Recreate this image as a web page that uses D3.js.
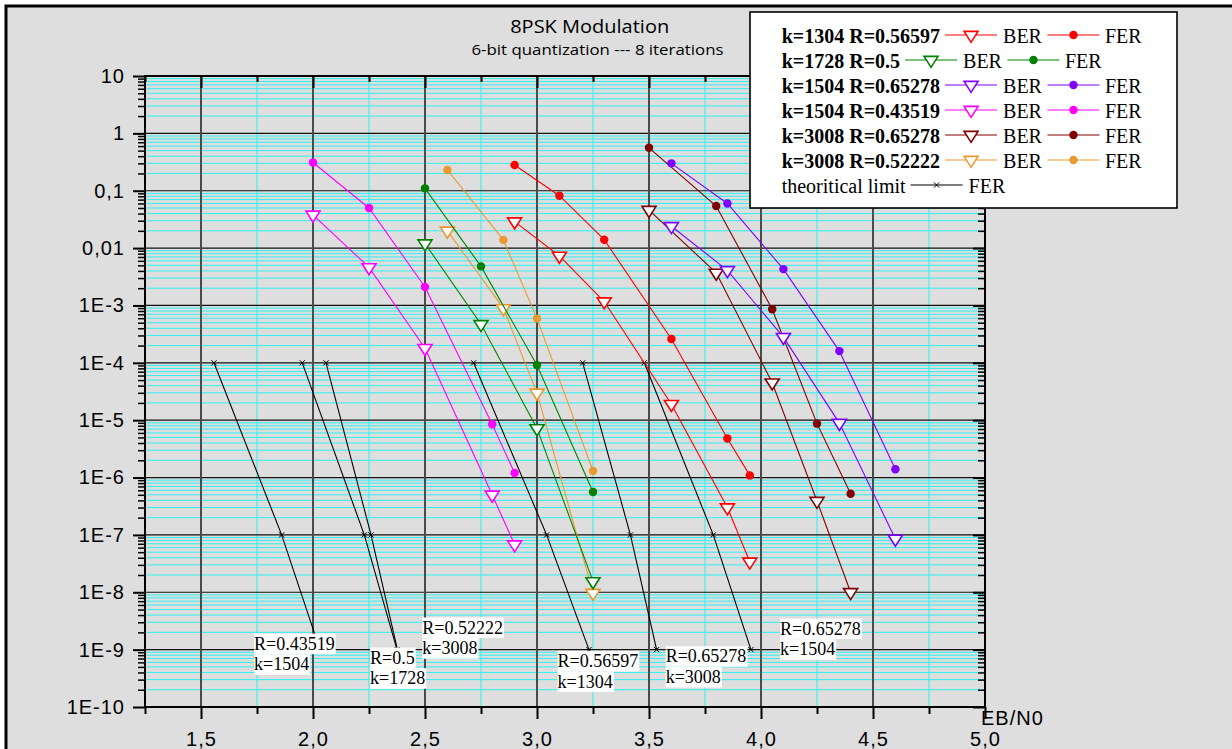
<!DOCTYPE html>
<html lang="en">
<head>
<meta charset="UTF-8">
<title>8PSK Modulation</title>
<script src="https://d3js.org/d3.v7.min.js"></script>
<style>
  body { margin: 0; background: #fff; }
  svg { display: block; }
</style>
</head>
<body>
<svg id="chart" width="1232" height="749"></svg>
<script>
// ---- data ----
const xTickValues = [1.5, 2.0, 2.5, 3.0, 3.5, 4.0, 4.5, 5.0];
const xTickLabels = ["1,5", "2,0", "2,5", "3,0", "3,5", "4,0", "4,5", "5,0"];
const yTickValues = [10, 1, 0.1, 0.01, 1e-3, 1e-4, 1e-5, 1e-6, 1e-7, 1e-8, 1e-9, 1e-10];
const yTickLabels = ["10", "1", "0,1", "0,01", "1E-3", "1E-4", "1E-5", "1E-6", "1E-7", "1E-8", "1E-9", "1E-10"];

const codeNames = ["k=1304 R=0.56597", "k=1728 R=0.5", "k=1504 R=0.65278",
                   "k=1504 R=0.43519", "k=3008 R=0.65278", "k=3008 R=0.52222"];
const codeColors = ["#ff0000", "#008000", "#8000ff", "#ff00ff", "#800000", "#e89a30"];

const ebn0_k1304 = [2.9, 3.1, 3.3, 3.6, 3.85, 3.95];
const ber_k1304 = [0.029, 7.3e-3, 1.17e-3, 1.9e-5, 3.0e-7, 3.4e-8];
const fer_k1304 = [0.28, 0.082, 0.014, 2.6e-4, 4.8e-6, 1.09e-6];

const ebn0_k1728 = [2.5, 2.75, 3.0, 3.25];
const ber_k1728 = [0.012, 4.7e-4, 7.2e-6, 1.55e-8];
const fer_k1728 = [0.11, 4.8e-3, 9.1e-5, 5.6e-7];

const ebn0_k1504a = [3.6, 3.85, 4.1, 4.35, 4.6];
const ber_k1504a = [0.024, 4.1e-3, 2.8e-4, 8.9e-6, 8.5e-8];
const fer_k1504a = [0.30, 0.06, 4.3e-3, 1.6e-4, 1.4e-6];

const ebn0_k1504b = [2.0, 2.25, 2.5, 2.8, 2.9];
const ber_k1504b = [0.038, 4.6e-3, 1.8e-4, 5e-7, 6.8e-8];
const fer_k1504b = [0.31, 0.05, 2.1e-3, 8.5e-6, 1.2e-6];

const ebn0_k3008a = [3.5, 3.8, 4.05, 4.25, 4.4];
const ber_k3008a = [0.046, 3.7e-3, 4.5e-5, 3.9e-7, 1e-8];
const fer_k3008a = [0.56, 0.054, 8.6e-4, 8.7e-6, 5.2e-7];

const ebn0_k3008b = [2.6, 2.85, 3.0, 3.25];
const ber_k3008b = [0.02, 8.9e-4, 3.0e-5, 9.7e-9];
const fer_k3008b = [0.23, 0.0139, 5.9e-4, 1.3e-6];

// theoretical limit (FER) for each code
const limitFer = [1e-4, 1e-7, 1e-9];
const limitEbn0 = [
  [1.558, 1.860, 2.031],   // R=0.43519 k=1504
  [1.952, 2.229, 2.375],   // R=0.5 k=1728
  [2.058, 2.259, 2.377],   // R=0.52222 k=3008
  [2.717, 3.043, 3.232],   // R=0.56597 k=1304
  [3.204, 3.417, 3.534],   // R=0.65278 k=3008
  [3.479, 3.787, 3.955]    // R=0.65278 k=1504
];
const limitText = [["R=0.43519", "k=1504"], ["R=0.5", "k=1728"], ["R=0.52222", "k=3008"],
                   ["R=0.56597", "k=1304"], ["R=0.65278", "k=3008"], ["R=0.65278", "k=1504"]];
const limitTextX = [1.7366, 2.2545, 2.488, 3.092, 3.5746, 4.085];
const limitTextY = [1e-9, 5.73e-10, 1.91e-9, 5.0e-10, 6.03e-10, 1.83e-9];

// ---- setup ----
const svg = d3.select("#chart");
const x = d3.scaleLinear().domain([1.25, 5.0]).range([145, 985]);
const y = d3.scaleLog().domain([1e-10, 10]).range([707, 76]);

const series = [
  [ebn0_k1304, ber_k1304, fer_k1304],
  [ebn0_k1728, ber_k1728, fer_k1728],
  [ebn0_k1504a, ber_k1504a, fer_k1504a],
  [ebn0_k1504b, ber_k1504b, fer_k1504b],
  [ebn0_k3008a, ber_k3008a, fer_k3008a],
  [ebn0_k3008b, ber_k3008b, fer_k3008b]
].map((s, i) => ({ name: codeNames[i], color: codeColors[i], x: s[0], ber: s[1], fer: s[2] }));

// outer page frame
svg.append("rect")
  .attr("x", 6).attr("y", 6).attr("width", 1240).attr("height", 760)
  .attr("fill", "#dedede").attr("stroke", "#000").attr("stroke-width", 3);

// ---- grid ----
const xMinor = xTickValues.map(v => v - 0.25);
const yMinor = [];
d3.range(-10, 1).forEach(d => d3.range(2, 10).forEach(k => yMinor.push(+(k + "e" + d))));

const grid = svg.append("g");
grid.selectAll(".hminor").data(yMinor).join("line")
  .attr("x1", 145).attr("x2", 985)
  .attr("y1", d => y(d)).attr("y2", d => y(d))
  .attr("stroke", "#2ef0f0").attr("stroke-width", 1);
grid.selectAll(".vminor").data(xMinor.filter(v => v > 1.3)).join("line")
  .attr("x1", d => x(d)).attr("x2", d => x(d))
  .attr("y1", 76).attr("y2", 707)
  .attr("stroke", "#2ef0f0").attr("stroke-width", 1);
grid.selectAll(".hmajor").data(yTickValues.slice(1, -1)).join("line")
  .attr("x1", 145).attr("x2", 985)
  .attr("y1", d => y(d)).attr("y2", d => y(d))
  .attr("stroke", "#111").attr("stroke-width", 1.2);
grid.selectAll(".vmajor").data(xTickValues.slice(0, -1)).join("line")
  .attr("x1", d => x(d)).attr("x2", d => x(d))
  .attr("y1", 76).attr("y2", 707)
  .attr("stroke", "#4a4a4a").attr("stroke-width", 2);

// ---- axes ----
function styleAxis(g, w) {
  g.select(".domain").remove();
  g.selectAll(".tick line").attr("stroke", "#000").attr("stroke-width", w);
  g.selectAll(".tick text")
    .attr("fill", "#000")
    .style("font-family", "'Liberation Sans', Arial, sans-serif")
    .style("font-size", "20px")
    .style("letter-spacing", "1px");
}

svg.append("g").attr("transform", "translate(145,0)")
  .call(d3.axisLeft(y).tickValues(yMinor).tickSize(7).tickFormat(""))
  .call(g => styleAxis(g, 1.5));
svg.append("g").attr("transform", "translate(145,0)")
  .call(d3.axisLeft(y).tickValues(yTickValues).tickSize(12).tickPadding(8)
    .tickFormat((d, i) => yTickLabels[i]))
  .call(g => styleAxis(g, 2));

svg.append("g").attr("transform", "translate(985,0)")
  .call(d3.axisLeft(y).tickValues(yMinor).tickSize(7).tickFormat(""))
  .call(g => styleAxis(g, 1.5));
svg.append("g").attr("transform", "translate(985,0)")
  .call(d3.axisLeft(y).tickValues(yTickValues).tickSize(12).tickFormat(""))
  .call(g => styleAxis(g, 2));

svg.append("g").attr("transform", "translate(0,707)")
  .call(d3.axisBottom(x).tickValues(xMinor).tickSize(7).tickFormat(""))
  .call(g => styleAxis(g, 2));
svg.append("g").attr("transform", "translate(0,707)")
  .call(d3.axisBottom(x).tickValues(xTickValues).tickSize(12).tickPadding(13)
    .tickFormat((d, i) => xTickLabels[i]))
  .call(g => styleAxis(g, 2));

svg.append("g").attr("transform", "translate(0,76)")
  .call(d3.axisBottom(x).tickValues(xMinor).tickSize(6).tickFormat(""))
  .call(g => styleAxis(g, 2));
svg.append("g").attr("transform", "translate(0,76)")
  .call(d3.axisBottom(x).tickValues(xTickValues).tickSize(12).tickFormat(""))
  .call(g => styleAxis(g, 2));

// plot frame
svg.append("rect")
  .attr("x", 145).attr("y", 76).attr("width", 840).attr("height", 631)
  .attr("fill", "none").attr("stroke", "#000").attr("stroke-width", 2);

svg.append("text")
  .attr("x", 981).attr("y", 725)
  .style("font-family", "'Liberation Sans', Arial, sans-serif")
  .style("font-size", "20px").style("letter-spacing", "1px")
  .text("EB/N0");

// ---- markers ----
const downTriangle = {
  draw(ctx) {
    const w = 7, h = 11;
    ctx.moveTo(-w, -h / 3);
    ctx.lineTo(w, -h / 3);
    ctx.lineTo(0, 2 * h / 3);
    ctx.closePath();
  }
};
const cross = {
  draw(ctx) {
    const r = 2.6;
    ctx.moveTo(-r, -r); ctx.lineTo(r, r);
    ctx.moveTo(-r, r); ctx.lineTo(r, -r);
  }
};
const triPath = d3.symbol().type(downTriangle)();
const crossPath = d3.symbol().type(cross)();
const dotPath = d3.symbol().type(d3.symbolCircle).size(56)();

const line = d3.line().x(d => x(d[0])).y(d => y(d[1]));

// theoretical limit curves
const lim = svg.append("g");
limitEbn0.forEach(xs => {
  const pts = xs.map((v, i) => [v, limitFer[i]]);
  lim.append("path").attr("d", line(pts))
    .attr("fill", "none").attr("stroke", "#000").attr("stroke-width", 1.1);
  lim.selectAll(null).data(pts).join("path")
    .attr("d", crossPath)
    .attr("transform", d => `translate(${x(d[0])},${y(d[1])})`)
    .attr("stroke", "#000").attr("stroke-width", 1).attr("fill", "none");
});

// simulated curves
const plot = svg.append("g");
series.slice().reverse().forEach(s => {
  const berPts = s.x.map((v, i) => [v, s.ber[i]]);
  const ferPts = s.x.map((v, i) => [v, s.fer[i]]);
  plot.append("path").attr("d", line(berPts))
    .attr("fill", "none").attr("stroke", s.color).attr("stroke-width", 1.1);
  plot.append("path").attr("d", line(ferPts))
    .attr("fill", "none").attr("stroke", s.color).attr("stroke-width", 1.1);
  plot.selectAll(null).data(berPts).join("path")
    .attr("d", triPath)
    .attr("transform", d => `translate(${x(d[0])},${y(d[1])})`)
    .attr("fill", "#fff").attr("stroke", s.color).attr("stroke-width", 1.6);
  plot.selectAll(null).data(ferPts).join("path")
    .attr("d", dotPath)
    .attr("transform", d => `translate(${x(d[0])},${y(d[1])})`)
    .attr("fill", s.color);
});

// labels on the theoretical curves
const ann = svg.append("g")
  .style("font-family", "'Liberation Serif', 'Times New Roman', serif")
  .style("font-size", "18px");
limitText.forEach((lines, i) => {
  const x0 = x(limitTextX[i]), y0 = y(limitTextY[i]);
  lines.forEach((t, j) => {
    const by = y0 + j * 20.7;
    const rect = ann.append("rect").attr("fill", "#fff");
    const txt = ann.append("text").attr("x", x0).attr("y", by).text(t);
    const w = txt.node().getComputedTextLength();
    rect.attr("x", x0).attr("y", by - 16).attr("width", w + 1).attr("height", 20.5);
  });
});

// ---- titles ----
svg.append("text")
  .attr("x", 589.7).attr("y", 32.7).attr("text-anchor", "middle")
  .attr("textLength", 159).attr("lengthAdjust", "spacingAndGlyphs")
  .style("font-family", "'Comic Sans MS', 'Open Sans', sans-serif")
  .style("font-size", "19px")
  .text("8PSK Modulation");
svg.append("text")
  .attr("x", 597.5).attr("y", 55).attr("text-anchor", "middle")
  .attr("textLength", 252).attr("lengthAdjust", "spacingAndGlyphs")
  .style("font-family", "'Comic Sans MS', 'Open Sans', sans-serif")
  .style("font-size", "15px")
  .text("6-bit quantization --- 8 iterations");

// ---- legend ----
const leg = svg.append("g")
  .style("font-family", "'Liberation Serif', 'Times New Roman', serif")
  .style("font-size", "20px");
leg.append("rect")
  .attr("x", 750).attr("y", 12).attr("width", 427).attr("height", 196)
  .attr("fill", "#fff").attr("stroke", "#000").attr("stroke-width", 1.6);

function legendSample(xs, yl, color, marker, fill) {
  leg.append("line").attr("x1", xs).attr("x2", xs + 52).attr("y1", yl).attr("y2", yl)
    .attr("stroke", color).attr("stroke-width", 1.2);
  leg.append("path").attr("d", marker)
    .attr("transform", `translate(${xs + 26},${yl})`)
    .attr("fill", fill).attr("stroke", marker === dotPath ? "none" : color)
    .attr("stroke-width", marker === crossPath ? 1 : 1.6);
  return xs + 52;
}
function legendText(xs, yb, t, bold) {
  const n = leg.append("text").attr("x", xs).attr("y", yb)
    .style("font-weight", bold ? "bold" : "normal").text(t);
  return xs + n.node().getComputedTextLength();
}

series.forEach((s, i) => {
  const yb = 43.3 + i * 25, yl = yb - 8.3;
  let cx = legendText(781.7, yb, s.name, true);
  cx = legendSample(cx + 5, yl, s.color, triPath, "#fff");
  cx = legendText(cx + 6, yb, "BER", false);
  cx = legendSample(cx + 5.5, yl, s.color, dotPath, s.color);
  legendText(cx + 5.5, yb, "FER", false);
});
{
  const yb = 43.3 + 6 * 25, yl = yb - 8.3;
  let cx = legendText(781.7, yb, "theoritical limit", false);
  cx = legendSample(cx + 5, yl, "#000", crossPath, "none");
  legendText(cx + 6, yb, "FER", false);
}
</script>
</body>
</html>
